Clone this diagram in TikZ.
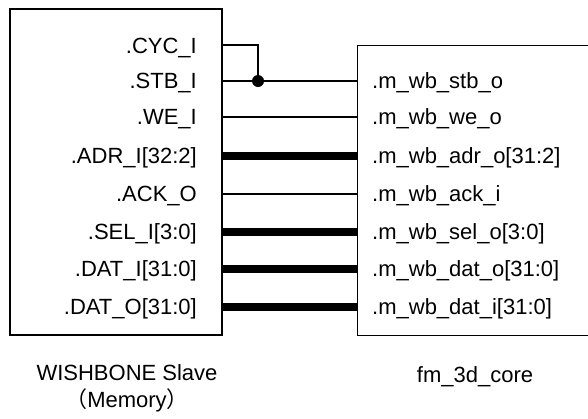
\documentclass[tikz,border=0pt]{standalone}
\usepackage{fontspec}
\setmainfont{Liberation Sans}
\newfontfamily\cjk{Noto Sans CJK JP}
\usetikzlibrary{positioning}
\tikzset{box/.style = {draw, line width=1.2pt, inner sep=0pt},
         wire/.style = {line width=1.2pt},
         bus/.style = {line width=8pt},
         port/.style = {font=\fontsize{22}{24}\selectfont, inner sep=0pt}}

\begin{document}
\begin{tikzpicture}[x=1pt, y=-1pt]
      \useasboundingbox (0,0) rectangle (588,418);
      \node [box, minimum width=212pt, minimum height=326pt] (slave) at (116,172) {};
      \node [box, minimum width=250pt, minimum height=290pt, anchor=north west] (core) at (357,45) {};
      % ports
      \node [port, anchor=base east] (cyc) at (197,53) {.CYC\_I};
      \foreach \y/\sname/\mname/\kind [count=\i] in {
          81/.STB\_I/.m\_wb\_stb\_o/wire,
          117/.WE\_I/.m\_wb\_we\_o/wire,
          156/.ADR\_I[32:2]/.m\_wb\_adr\_o[31:2]/bus,
          194/.ACK\_O/.m\_wb\_ack\_i/wire,
          232/.SEL\_I[3:0]/.m\_wb\_sel\_o[3:0]/bus,
          269/.DAT\_I[31:0]/.m\_wb\_dat\_o[31:0]/bus,
          307/.DAT\_O[31:0]/.m\_wb\_dat\_i[31:0]/bus} {
        \coordinate (w\i) at (221,\y);
        \node [port, anchor=base east] (s\i) at (197,\y+7) {\sname};
        \node [port, anchor=base west] (m\i) at (372,\y+7) {\mname};
        \draw [\kind] (slave.east |- w\i) -- (core.west |- w\i);
      }
      \coordinate (tee) at (258,45);
      \draw [wire] (slave.east |- tee) -- (tee) -- (tee |- w1);
      \fill (tee |- w1) circle (6pt);
      % captions
      \node [port, anchor=base] (slavename) at (127,380) {WISHBONE Slave};
      \node [port, anchor=base] (slavekind) at (127,407) {{\cjk （}Memory{\cjk ）}};
      \node [port, anchor=base] (corename) at (475,382) {fm\_3d\_core};
    \end{tikzpicture}
\end{document}
